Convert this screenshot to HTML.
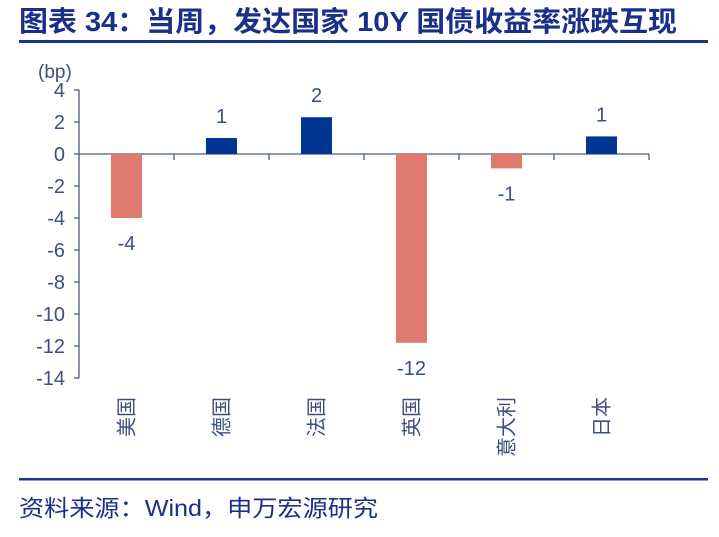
<!DOCTYPE html>
<html><head><meta charset="utf-8"><style>
body{margin:0;background:#fff;width:719px;height:532px;overflow:hidden;font-family:"Liberation Sans","Noto Sans CJK SC",sans-serif}
</style></head><body>
<svg width="719" height="532" xmlns="http://www.w3.org/2000/svg">
<text x="19" y="31" font-size="28" font-weight="bold" fill="#1a2f8a" textLength="658" lengthAdjust="spacingAndGlyphs" font-family="Liberation Sans, Noto Sans CJK SC, sans-serif">图表 34：当周，发达国家 10Y 国债收益率涨跌互现</text>
<rect x="19" y="40" width="689" height="3" fill="#1a3590"/>
<text x="38" y="78" font-size="19" fill="#3d4f7c">(bp)</text>
<g id="axes"></g>
<g id="bars"></g>
<rect x="19" y="478" width="689" height="2.5" fill="#1a3590"/>
<text x="19" y="516" font-size="23" fill="#1a2f8a" textLength="359" lengthAdjust="spacingAndGlyphs" font-family="Liberation Sans, Noto Sans CJK SC, sans-serif">资料来源：Wind，申万宏源研究</text>
</svg>
<script>
const categories=["美国","德国","法国","英国","意大利","日本"];
const values=[-4.0,1.0,2.3,-11.8,-0.9,1.1];
const printed=["-4","1","2","-12","-1","1"];
const yTicks=[4,2,0,-2,-4,-6,-8,-10,-12,-14];
const NS="http://www.w3.org/2000/svg";
const x0=79,band=95,barW=31;
const y=v=>154-v*16;
const axes=document.getElementById('axes'),bars=document.getElementById('bars');
function mk(tag,attrs,parent,txt){const e=document.createElementNS(NS,tag);for(const k in attrs)e.setAttribute(k,attrs[k]);if(txt!==undefined)e.textContent=txt;parent.appendChild(e);return e;}
const ax="#4a5a88",tc="#3d4f7c";
let yl=mk('line',{x1:x0,y1:y(4),x2:x0,y2:y(-14),stroke:ax,'stroke-width':1.3},axes);


yTicks.forEach(t=>{
 let l=mk('line',{x1:x0-5,y1:y(t),x2:x0,y2:y(t),stroke:ax,'stroke-width':1.3},axes);
 
 
 let tx=mk('text',{x:x0-14,y:y(t)+7,'font-size':20,fill:tc,'text-anchor':'end'},axes,String(t));
 
 
});
let xl=mk('line',{x1:x0,y1:y(0),x2:x0+band*categories.length,y2:y(0),stroke:ax,'stroke-width':1.3},axes);


for(let i=1;i<=categories.length;i++){
 let l=mk('line',{x1:x0+band*i,y1:y(0),x2:x0+band*i,y2:y(0)+6,stroke:ax,'stroke-width':1.3},axes);
 
 
}
categories.forEach((c,i)=>{
 const cx=x0+band*i+band/2,v=values[i];
 const top=Math.min(y(v),y(0)),h=Math.abs(y(v)-y(0));
 let r=mk('rect',{x:cx-barW/2,y:top,width:barW,height:h,fill:v>=0?'#003594':'#e07a6e'},bars);
 
 
 const ly=v>=0?y(v)-15:y(v)+32;
 let t=mk('text',{x:cx,y:ly,'font-size':20,fill:tc,'text-anchor':'middle'},bars,printed[i]);
 
 
 let ct=mk('text',{x:0,y:0,'font-size':20,fill:tc,'text-anchor':'end',transform:`translate(${cx+7},397) rotate(-90)`,'font-family':'Noto Sans CJK SC, sans-serif'},bars,c);
 
 
});
</script>
</body></html>
